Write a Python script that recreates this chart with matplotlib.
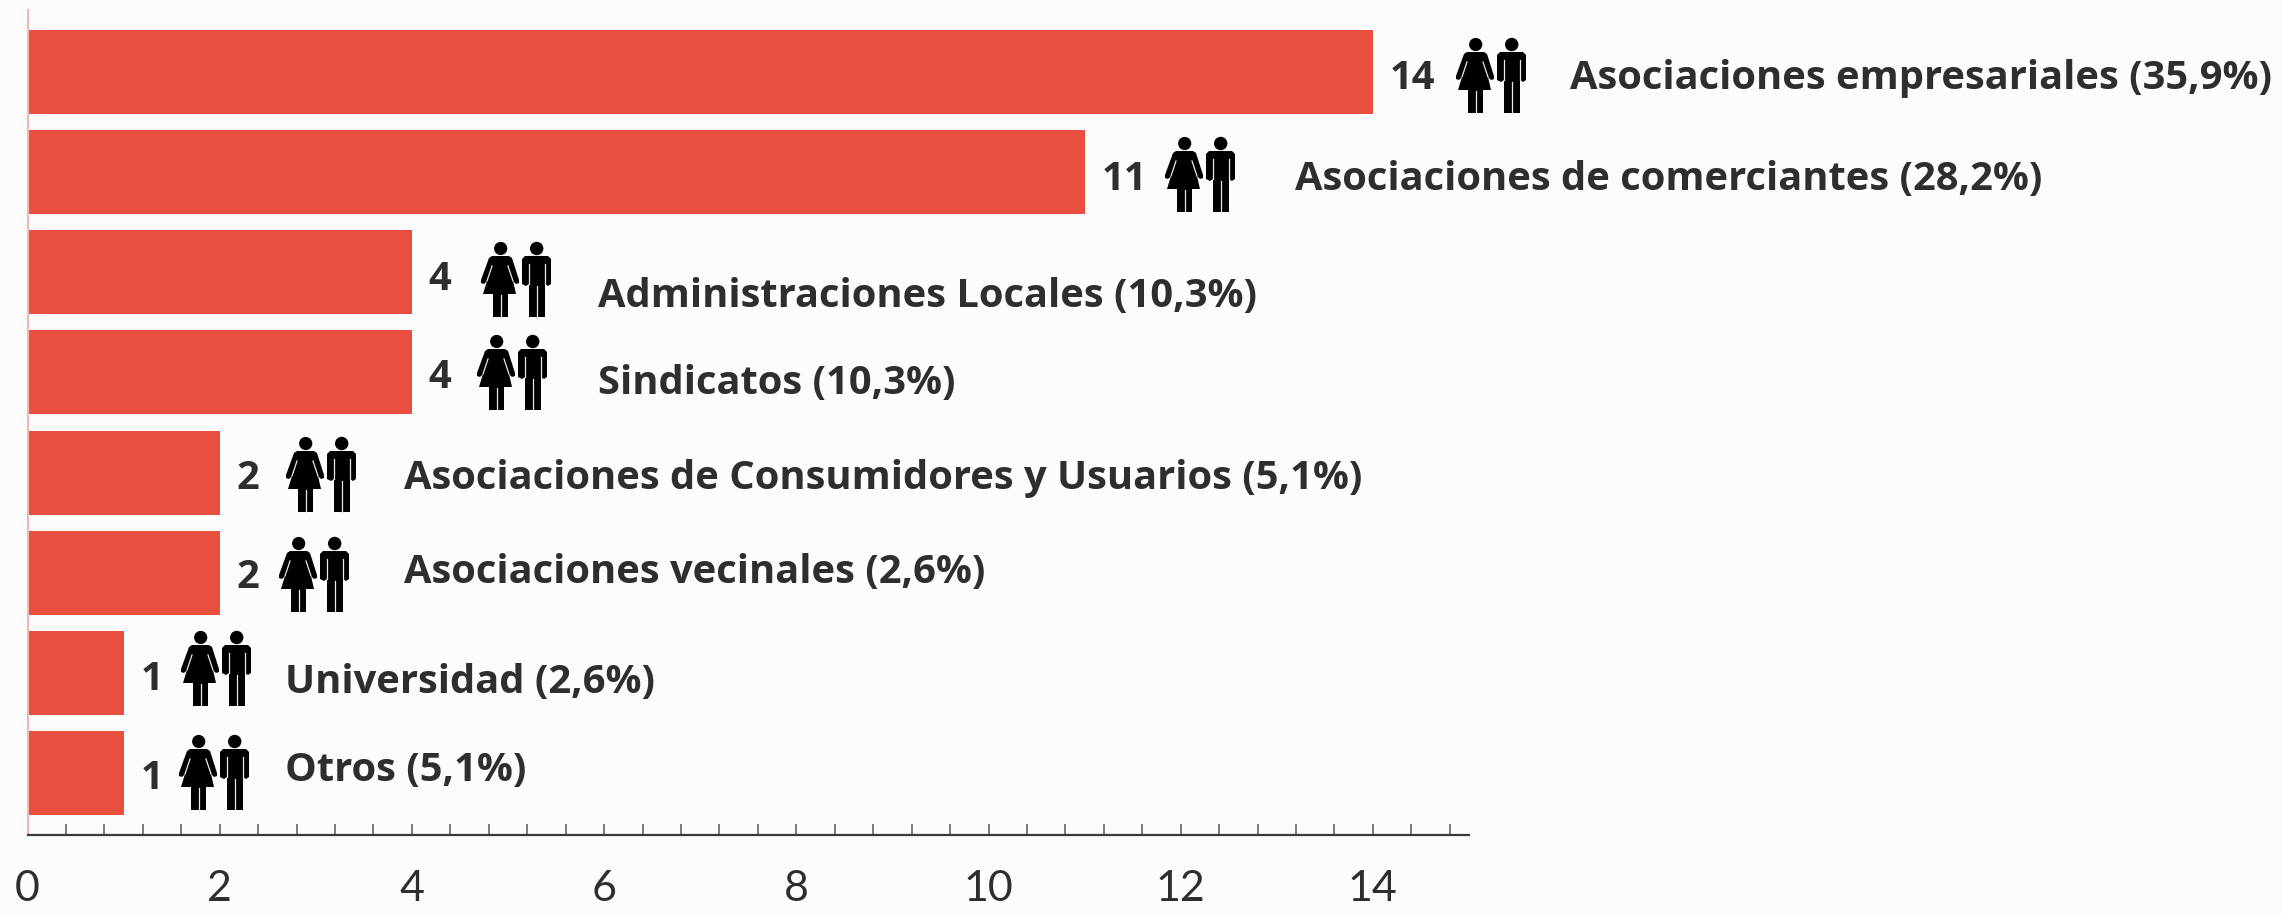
import matplotlib
matplotlib.use("Agg")
import matplotlib.pyplot as plt
from matplotlib.patches import Circle, Polygon
from matplotlib.transforms import Affine2D
from matplotlib.ticker import MultipleLocator

W, H = 2282, 916
BG = "#FCFCFC"
RED = "#E94F3E"
INK = "#2E2E2E"

categories = ["Asociaciones empresariales (35,9%)", "Asociaciones de comerciantes (28,2%)",
              "Administraciones Locales (10,3%)", "Sindicatos (10,3%)",
              "Asociaciones de Consumidores y Usuarios (5,1%)", "Asociaciones vecinales (2,6%)",
              "Universidad (2,6%)", "Otros (5,1%)"]
values = [14, 11, 4, 4, 2, 2, 1, 1]
xticks = [0, 2, 4, 6, 8, 10, 12, 14]

# layout, pixels of the 2282x916 image
value_x = [1390, 1102, 428, 428, 236, 236, 141, 141]
value_base = [89, 190, 290, 388, 489, 588, 690, 789]
label_x = [1570, 1295, 598, 598, 404, 404, 285, 285]
label_base = [89, 190, 307, 394, 489, 583, 693, 781]
icon_x = [1456, 1165, 481, 477, 286, 279, 181, 179]
icon_y = [38, 137, 242, 335, 437, 537, 631, 735]

plt.rcParams["font.family"] = ["Lato", "DejaVu Sans"]
fig = plt.figure(figsize=(W / 100, H / 100), dpi=100, facecolor=BG)
ax = fig.add_axes([27.5 / W, 1 - 835 / H, (1469 - 27.5) / W, (835 - 10) / H], facecolor="none")

ypos = list(range(len(values)))
ax.barh(ypos, values, height=0.839, color=RED, linewidth=0)
ax.set_xlim(0, 15)
ax.set_ylim(7.62, -0.619)

for s in ("top", "right"):
    ax.spines[s].set_visible(False)
ax.spines["left"].set_color("#F0B9B3")
ax.spines["left"].set_linewidth(1.5)
ax.spines["bottom"].set_color("#3A3A3A")
ax.spines["bottom"].set_linewidth(1.6)
ax.set_yticks([])
ax.set_xticks(xticks)
ax.xaxis.set_minor_locator(MultipleLocator(0.4))
ax.tick_params(axis="x", which="both", direction="in", length=8, width=1.1, color="#555555")
ax.tick_params(axis="x", which="major", pad=25, labelsize=31, labelcolor=INK)


def px_text(x, y, s, **kw):
    fig.text(x / W, 1 - y / H, s, va="baseline", ha="left", color=INK, family="Open Sans",
             fontsize=28.7, fontweight="bold", **kw)


def icon(x0, y0):
    tr = Affine2D().scale(1 / W, -1 / H).translate(x0 / W, 1 - y0 / H) + fig.transFigure
    woman = [(11, 14), (28, 14), (31, 16), (38, 38), (38, 41), (35, 42), (32, 39), (35, 52), (27, 52),
             (27, 75), (12, 75), (12, 52), (2, 52), (6, 39), (3, 42), (0, 41), (0, 38), (8, 16)]
    man = [(44, 14), (67, 14), (70, 17), (70, 42), (67, 44), (64, 42), (64, 75), (48, 75), (48, 42), (45, 44),
           (41, 42), (41, 17)]
    fig.add_artist(Polygon(woman, closed=True, fc="black", ec="none", transform=tr))
    fig.add_artist(Polygon(man, closed=True, fc="black", ec="none", transform=tr))
    fig.add_artist(Circle((19.7, 6.5), 6.6, fc="black", ec="none", transform=tr))
    fig.add_artist(Circle((55.7, 6.5), 6.7, fc="black", ec="none", transform=tr))
    slits = [(19.5, 53, 19.5, 75), (56, 44, 56, 75), (48, 22, 48, 42), (64, 22, 64, 42),
             (11, 24, 6, 39), (27, 24, 32, 39)]
    for (xa, ya, xb, yb) in slits:
        fig.add_artist(plt.Line2D([xa, xb], [ya, yb], color="#E8E8E8", lw=0.9, transform=tr))


for i in ypos:
    px_text(value_x[i], value_base[i], str(values[i]))
    px_text(label_x[i], label_base[i], categories[i])
    icon(icon_x[i], icon_y[i])

fig.savefig("out.png", dpi=100, facecolor=BG)
